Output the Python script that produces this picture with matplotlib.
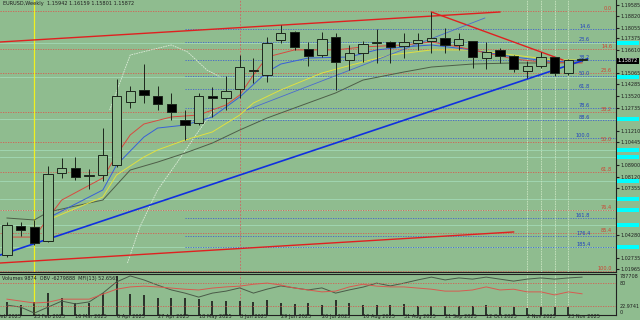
import matplotlib
matplotlib.use("Agg")
import matplotlib.pyplot as plt
import matplotlib.transforms as mtransforms
from matplotlib.patches import Rectangle

BG = "#8fbc8f"

# weekly EURUSD candles, index 0 = week of 9 Feb 2025
opens = [1.0291, 1.0485, 1.0478, 1.0385, 1.0838, 1.0871, 1.0818, 1.0825, 1.0891, 1.1312,
         1.1392, 1.1352, 1.1298, 1.1192, 1.1172, 1.1352, 1.1338, 1.1398, 1.1518, 1.1492,
         1.1725, 1.1779, 1.1665, 1.1625, 1.1745, 1.1592, 1.1639, 1.1705, 1.1712, 1.1685,
         1.1705, 1.1719, 1.1739, 1.1692, 1.1719, 1.1605, 1.1659, 1.1619, 1.1518, 1.1552,
         1.1612, 1.1505, 1.1592]
highs = [1.0511, 1.0511, 1.0525, 1.0885, 1.0938, 1.0945, 1.0865, 1.1138, 1.1465, 1.1418,
         1.1565, 1.1418, 1.1372, 1.1258, 1.1372, 1.1412, 1.1485, 1.1625, 1.1605, 1.1745,
         1.1825, 1.1785, 1.1712, 1.1779, 1.1772, 1.1692, 1.1719, 1.1799, 1.1719, 1.1772,
         1.1772, 1.1912, 1.1805, 1.1772, 1.1719, 1.1712, 1.1672, 1.1625, 1.1585, 1.1645,
         1.1612, 1.1599, 1.1605]
lows = [1.0278, 1.0418, 1.0358, 1.0378, 1.0805, 1.0791, 1.0731, 1.0785, 1.0878, 1.1272,
        1.1305, 1.1258, 1.1192, 1.1058, 1.1158, 1.1212, 1.1258, 1.1338, 1.1438, 1.1445,
        1.1705, 1.1659, 1.1552, 1.1612, 1.1392, 1.1525, 1.1579, 1.1572, 1.1572, 1.1605,
        1.1659, 1.1639, 1.1639, 1.1659, 1.1538, 1.1532, 1.1572, 1.1512, 1.1472, 1.1538,
        1.1485, 1.1492, 1.1585]
closes = [1.0491, 1.0458, 1.0371, 1.0831, 1.0871, 1.0811, 1.0825, 1.0958, 1.1352, 1.1385,
          1.1358, 1.1298, 1.1245, 1.1158, 1.1352, 1.1338, 1.1385, 1.1545, 1.1525, 1.1705,
          1.1772, 1.1679, 1.1619, 1.1732, 1.1579, 1.1639, 1.1699, 1.1712, 1.1679, 1.1712,
          1.1725, 1.1739, 1.1692, 1.1732, 1.1612, 1.1645, 1.1619, 1.1532, 1.1552, 1.1612,
          1.1505, 1.1592, 1.1599]

# lower window: volumes (thousands), OBV (millions), MFI(13)
volume = [263, 202, 263, 444, 343, 242, 242, 444, 788, 424, 404, 343, 343, 343, 323, 283,
          283, 283, 263, 303, 242, 222, 242, 202, 303, 242, 202, 202, 202, 222, 182, 182,
          182, 182, 182, 202, 162, 162, 141, 162, 162, 162, 10]
obv = [-13.3, -13.8, -15.3, -13.8, -12.3, -13.0, -12.5, -10.3, -7.5, -6.0, -7.0, -8.3,
       -9.5, -10.3, -11.3, -10.3, -9.8, -9.0, -10.3, -9.3, -8.5, -9.0, -9.5, -9.0, -10.3,
       -9.5, -8.8, -7.8, -8.5, -7.8, -7.0, -6.3, -7.0, -6.5, -6.8, -6.3, -6.8, -7.3, -6.8,
       -6.5, -6.8, -6.5, -6.3]
mfi = [38, 33, 28, 30, 38, 38, 38, 51, 64, 70, 72, 70, 67, 64, 62, 67, 70, 72, 77, 80,
       75, 67, 62, 57, 59, 70, 77, 72, 70, 70, 67, 64, 59, 59, 62, 70, 62, 64, 57, 57,
       49, 57, 52]

# moving averages, read at a few weeks
red_ma_x = [0, 2, 3, 4, 7, 8, 9, 10, 12, 14, 16, 17, 18, 19, 21, 24, 26, 29, 31, 33, 35, 37, 39, 41, 42]
red_ma = [1.0411, 1.0411, 1.0538, 1.0658, 1.0805, 1.0958, 1.1092, 1.1165, 1.1212, 1.1225,
          1.1292, 1.1358, 1.1492, 1.1612, 1.1659, 1.1659, 1.1679, 1.1692, 1.1712, 1.1679,
          1.1639, 1.1599, 1.1579, 1.1572, 1.1572]
blue_ma_x = [3, 7, 8, 10, 11, 13, 15, 17, 19, 20, 22, 25, 27, 29, 31, 34, 37, 40, 42]
blue_ma = [1.0538, 1.0725, 1.0891, 1.1078, 1.1138, 1.1158, 1.1212, 1.1345, 1.1512, 1.1565,
           1.1605, 1.1612, 1.1659, 1.1679, 1.1692, 1.1659, 1.1612, 1.1579, 1.1592]
yellow_ma_x = [3, 7, 8, 10, 11, 13, 15, 17, 18, 20, 23, 26, 28, 31, 34, 37, 40, 42]
yellow_ma = [1.0525, 1.0678, 1.0825, 1.0945, 1.0992, 1.1058, 1.1112, 1.1225, 1.1305, 1.1392,
             1.1505, 1.1579, 1.1625, 1.1659, 1.1659, 1.1625, 1.1592, 1.1592]
olive_ma_x = [0, 2, 3, 7, 9, 11, 13, 15, 17, 19, 21, 24, 26, 29, 31, 34, 37, 40, 42]
olive_ma = [1.0538, 1.0525, 1.0578, 1.0658, 1.0858, 1.0911, 1.0971, 1.1038, 1.1125, 1.1205,
            1.1272, 1.1372, 1.1458, 1.1512, 1.1545, 1.1565, 1.1572, 1.1572, 1.1579]
band_up_x = [7.5, 9, 10.5, 12, 13.2, 14.6, 15.6]
band_up = [1.1258, 1.1625, 1.1659, 1.1692, 1.1645, 1.1525, 1.1478]
band_lo_x = [8.8, 9.7, 11, 12.4, 13.9, 15.1]
band_lo = [1.0238, 1.0478, 1.0725, 1.0905, 1.1105, 1.1258]

# trend lines (start week, price) -> (end week, price)
trend_lines = [
    ((-0.5, 1.1712), (36.0, 1.1912), "#e02020", 1.0),
    ((31.0, 1.1912), (40.6, 1.1592), "#e02020", 1.0),
    ((-0.5, 1.0291), (42.4, 1.1599), "#1030e0", 1.2),
    ((-0.5, 1.0238), (37.0, 1.0445), "#e02020", 1.0),
    ((17.5, 1.1258), (34.9, 1.1872), "#4a6ad0", 0.6),
]

# fibonacci levels
red_fib = [1.1919, 1.1665, 1.1505, 1.1245, 1.1045, 1.0845, 1.0591, 1.0438, 1.0184]
red_fib_lbl = ["0.0", "14.6", "23.6", "38.2", "50.0", "61.8", "76.4", "85.4", "100.0"]
blue_fib = [1.1799, 1.1712, 1.1592, 1.1485, 1.1398, 1.1272, 1.1192, 1.1072, 1.0538, 1.0418, 1.0345]
blue_fib_lbl = ["14.6", "23.6", "38.2", "50.0", "61.8", "78.6", "88.6", "100.0", "161.8", "176.4", "185.4"]
cyan_levels = [1.1705, 1.1478, 1.1198, 1.0992, 1.0945, 1.0785, 1.0665, 1.0591, 1.0491, 1.0345]

# visible labels of the price scale (the rest sit under the coloured boxes)
price_ticks = [1.19585, 1.18820, 1.18055, 1.17375, 1.16610, 1.15065, 1.14285,
               1.13520, 1.12735, 1.11210, 1.10445, 1.08900, 1.08120, 1.07355, 1.04280,
               1.02735, 1.01965]

date_pos = [-1, 2, 5, 8, 11, 14, 17, 20, 23, 26, 29, 32, 35, 38, 41]
date_lbl = ["2 Feb 2025", "23 Feb 2025", "16 Mar 2025", "6 Apr 2025", "27 Apr 2025",
            "18 May 2025", "8 Jun 2025", "29 Jun 2025", "20 Jul 2025", "10 Aug 2025",
            "31 Aug 2025", "21 Sep 2025", "12 Oct 2025", "2 Nov 2025", "23 Nov 2025"]

last_price = 1.15872

fig = plt.figure(figsize=(6.4, 3.2), dpi=100)
fig.patch.set_facecolor(BG)
ax = fig.add_axes([0, 0.15, 0.9625, 0.85])
ax2 = fig.add_axes([0, 0.0156, 0.9625, 0.128], sharex=ax)
for a in (ax, ax2):
    a.set_facecolor(BG)
    for s in a.spines.values():
        s.set_color("#202020")
        s.set_linewidth(0.8)
    a.spines["left"].set_visible(False)
    a.spines["top"].set_visible(a is ax2)

ax.set_xlim(-0.51, 44.48)
ax.set_ylim(1.0178, 1.1992)

# horizontal levels
for lv in cyan_levels:
    ax.axhline(lv, color="#a8e0c0", lw=0.6, alpha=0.8, zorder=1)
for lv, lb in zip(red_fib, red_fib_lbl):
    ax.axhline(lv, color="#d85a50", lw=0.6, ls=(0, (1.5, 1.5)), zorder=1)
    ax.text(44.2, lv, lb, color="#d04030", fontsize=3.6, ha="right", va="bottom", zorder=6)
for lv, lb in zip(blue_fib, blue_fib_lbl):
    ax.plot([13, 44.48], [lv, lv], color="#4060d0", lw=0.6, ls=(0, (1.5, 1.5)), zorder=1)
    ax.text(42.6, lv, lb, color="#2040c0", fontsize=3.6, ha="right", va="bottom", zorder=6)

# vertical markers
for a in (ax, ax2):
    a.axvline(2, color="#f0f020", lw=0.9, zorder=2)
    a.axvline(17, color="#d06060", lw=0.6, ls=(0, (2, 2)), zorder=1)
    for v in (38, 39, 40, 41):
        a.axvline(v, color="#c8e4c0", lw=0.6, ls=(0, (2, 1)), zorder=1)

# indicator lines
ax.plot(band_up_x, band_up, color="#dcebd8", lw=0.6, ls=(0, (2, 1)), zorder=2)
ax.plot(band_lo_x, band_lo, color="#dcebd8", lw=0.6, ls=(0, (2, 1)), zorder=2)
ax.plot(olive_ma_x, olive_ma, color="#4e5e48", lw=0.7, zorder=3)
ax.plot(yellow_ma_x, yellow_ma, color="#e0e040", lw=0.7, zorder=3)
ax.plot(blue_ma_x, blue_ma, color="#3860d8", lw=0.7, zorder=3)
ax.plot(red_ma_x, red_ma, color="#d84a40", lw=0.7, zorder=3)
for (x0, y0), (x1, y1), c, w in trend_lines:
    ax.plot([x0, x1], [y0, y1], color=c, lw=w, zorder=4)

# candles
for i in range(len(opens)):
    o, h, l, c = opens[i], highs[i], lows[i], closes[i]
    ax.vlines(i, l, h, color="#1c261c", lw=0.7, zorder=5)
    up = c >= o
    ax.bar(i, abs(c - o) if abs(c - o) > 0.0003 else 0.0003, bottom=min(o, c), width=0.68,
           facecolor=BG if up else "black", edgecolor="#1c261c", lw=0.7, zorder=5)

# right price scale
ax.yaxis.tick_right()
ax.set_yticks(price_ticks)
ax.set_yticklabels([f"{t:.5f}" for t in price_ticks])
ax.tick_params(axis="y", labelsize=3.5, length=2, pad=1, colors="#202020")
ax.tick_params(axis="x", bottom=False, labelbottom=False)
tr = mtransforms.blended_transform_factory(ax.transAxes, ax.transData)
for lv in cyan_levels:
    ax.add_patch(Rectangle((1.002, lv - 0.0016), 0.036, 0.0032, transform=tr,
                           facecolor="#00ffff", edgecolor="none", clip_on=False, zorder=7))
ax.text(1.003, last_price, f"{last_price:.5f}", transform=tr, fontsize=3.5, color="white",
        va="center", ha="left", clip_on=False, zorder=8,
        bbox=dict(facecolor="black", edgecolor="none", pad=0.5))

fig.text(0.004, 0.997, "EURUSD,Weekly  1.15942 1.16159 1.15801 1.15872",
         fontsize=3.6, va="top", ha="left", color="#202020")

# lower window
ax2.vlines(range(len(volume)), 0, volume, color="#1a1a1a", lw=1.2, zorder=3)
ax2.set_ylim(0, 828)
ax2.set_yticks([])
ax3 = ax2.twinx()
ax3.plot(range(len(obv)), obv, color="#4a5a48", lw=0.7)
ax3.set_ylim(-15.78, -5.53)
ax3.axis("off")
ax4 = ax2.twinx()
ax4.plot(range(len(mfi)), mfi, color="#d85a50", lw=0.7)
ax4.axhline(80, color="#d85a50", lw=0.6, ls=(0, (1.5, 1.5)))
ax4.axhline(20, color="#d85a50", lw=0.6, ls=(0, (1.5, 1.5)))
ax4.set_ylim(-3.4, 103.6)
ax4.axis("off")
tr2 = mtransforms.blended_transform_factory(ax2.transAxes, ax4.transData)
for val, txt in [(98, "787708"), (80, "80"), (20, "22.9741"), (3, "0")]:
    ax2.text(1.006, val, txt, transform=tr2, fontsize=3.5, va="center", ha="left",
             color="#202020", clip_on=False)
ax2.text(0.004, 0.96, "Volumes 9874  OBV -6279888  MFI(13) 52.6565", transform=ax2.transAxes,
         fontsize=3.5, va="top", ha="left", color="#202020")
ax2.tick_params(axis="x", bottom=False, labelbottom=False)
trd = mtransforms.blended_transform_factory(ax2.transData, fig.transFigure)
for p, lb in zip(date_pos, date_lbl):
    ax2.text(p, 0.004, lb, transform=trd, fontsize=3.6, va="bottom", ha="left",
             color="#202020", clip_on=False)

fig.savefig("out.png", dpi=100, facecolor=BG)
